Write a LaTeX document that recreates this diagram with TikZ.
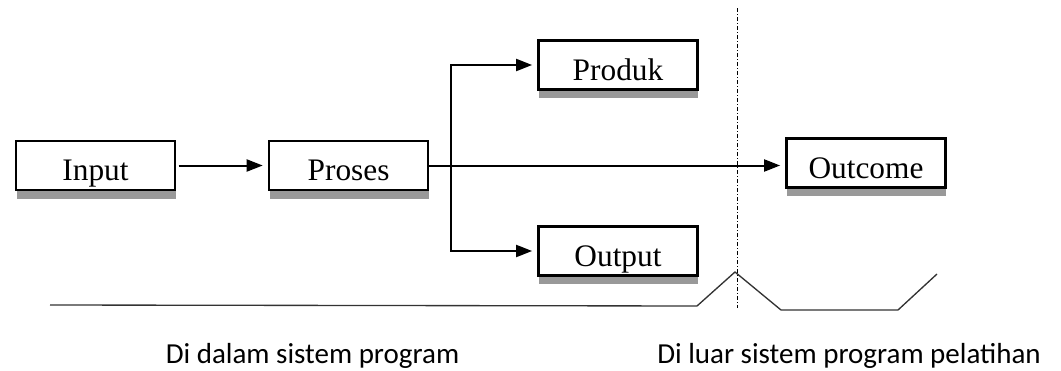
\documentclass[tikz,border=0pt]{standalone}
\usepackage{fontspec}
\setmainfont{Liberation Serif}
\newfontfamily\calibrifont{Carlito}
\usetikzlibrary{positioning, arrows.meta, shadows}
\definecolor{bayang}{RGB}{153,153,153}

\begin{document}
\begin{tikzpicture}[
    x=0.75pt, y=-0.75pt,
    kotak/.style={rectangle, draw=black, line width=1.8pt, fill=white, minimum width=119pt, minimum height=36.5pt, inner sep=0pt, text height=23pt, text depth=0pt, font=\fontsize{23.5}{28}\selectfont, drop shadow={shadow xshift=0.5pt, shadow yshift=-6.5pt, fill=bayang, opacity=1}},
    arrow/.style={-{Triangle[length=12pt, width=9pt]}, line width=1.5pt, shorten >=4pt},
    batas/.style={line width=0.6pt, dash pattern=on 3pt off 1.5pt on 0.75pt off 1.5pt},
    garis/.style={line width=1pt, black!80},
    ket/.style={font=\fontsize{21.75}{26}\calibrifont}
]
\useasboundingbox (0,0) rectangle (1061,371);

\node[kotak] (input) at (95.5,165.5) {Input};
\node[kotak, right=69pt of input] (proses) {Proses};
\node[kotak] (produk) at (618,65) {Produk};
\node[kotak] (output) at (618,251) {Output};
\node[kotak] (outcome) at (866,163) {Outcome};

\coordinate[right=16.5pt of proses.east] (cabang);
\coordinate (batasatas) at (737,8);
\coordinate (batasbawah) at (737,308);

\draw[arrow, shorten <=2pt] (input) -- (proses);
\draw[arrow] (proses.east) -- (proses.east -| outcome.west);
\draw[arrow] (cabang) |- (produk.west);
\draw[arrow] (cabang) |- (output.west);

\draw[batas] (batasatas) -- (batasbawah);
\draw[garis] (50,305) -- (697,306) -- (735,272) -- (781,310) -- (898,310) -- (937,274);

\node[ket, anchor=base] (dalam) at (312.5,363) {Di dalam sistem program};
\node[ket, anchor=base] (luar) at (849,363) {Di luar sistem program pelatihan};

\end{tikzpicture}
\end{document}
